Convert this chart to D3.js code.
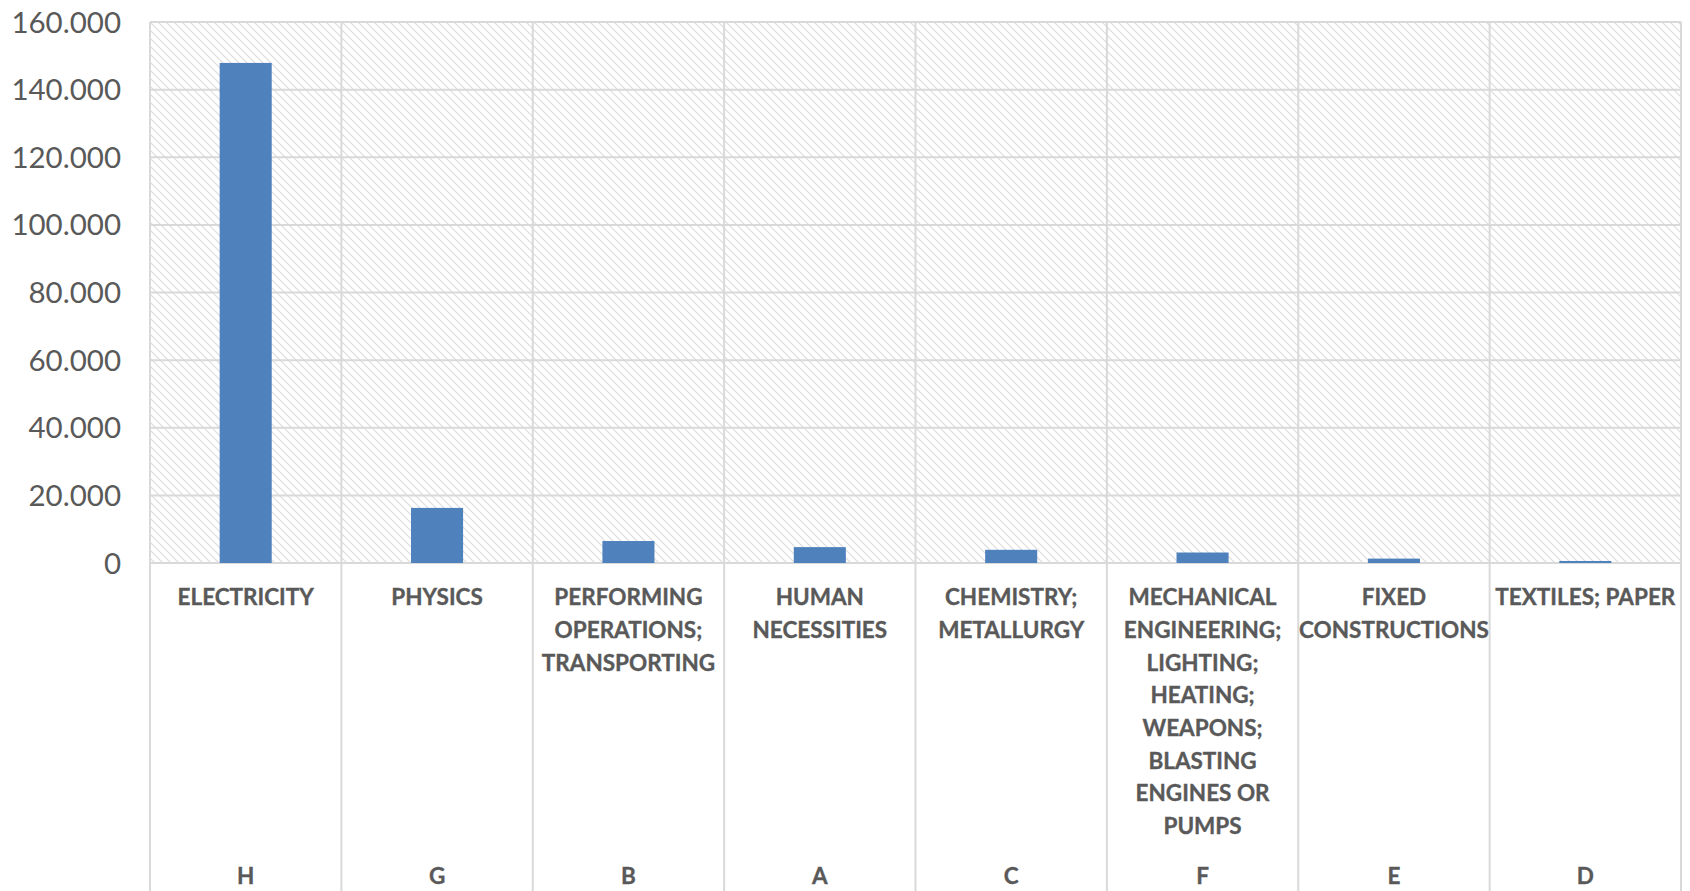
<!DOCTYPE html>
<html>
<head>
<meta charset="utf-8">
<script src="https://cdn.jsdelivr.net/npm/d3@7"></script>
<style>
  body { margin: 0; background: #fff; }
  svg { display: block; }
  .tick-label { font-family: Lato, "Open Sans", sans-serif; font-size: 29.5px; fill: #595959; }
  .cat-label { font-family: Lato, "Open Sans", sans-serif; font-weight: bold; font-size: 22.5px; fill: #595959; stroke: #595959; stroke-width: 0.35px; }
</style>
</head>
<body>
<div id="chart"></div>
<script>
// category codes and names (line breaks as in the original)
var codes = ["H", "G", "B", "A", "C", "F", "E", "D"]
var names = [
    "ELECTRICITY",
    "PHYSICS",
    "PERFORMING\nOPERATIONS;\nTRANSPORTING",
    "HUMAN\nNECESSITIES",
    "CHEMISTRY;\nMETALLURGY",
    "MECHANICAL\nENGINEERING;\nLIGHTING;\nHEATING;\nWEAPONS;\nBLASTING\nENGINES OR\nPUMPS",
    "FIXED\nCONSTRUCTIONS",
    "TEXTILES; PAPER"
]
var values = [147900, 16300, 6500, 4700, 3900, 3100, 1300, 600]
var yTicks = [0, 20000, 40000, 60000, 80000, 100000, 120000, 140000, 160000]

var width = 1690, height = 891
var margin = {left: 150, right: 9, top: 22}
var zeroY = 563

var locale = d3.formatLocale({decimal: ",", thousands: ".", grouping: [3], currency: ["", ""]})
var fmt = locale.format(",")

var svg = d3.select("#chart").append("svg")
    .attr("width", width)
    .attr("height", height)

// hatched background pattern
var pat = svg.append("defs").append("pattern")
    .attr("id", "hatch")
    .attr("patternUnits", "userSpaceOnUse")
    .attr("width", 8)
    .attr("height", 8)
pat.append("rect").attr("width", 8).attr("height", 8).attr("fill", "#fff")
pat.append("path")
    .attr("d", "M0,0L8,8M-4,4L4,12M4,-4L12,4")
    .attr("stroke", "#dcdcdc")
    .attr("stroke-width", 1.2)

var x = d3.scaleBand()
    .domain(codes)
    .range([margin.left, width - margin.right])
    .paddingInner(0)
    .paddingOuter(0)

var y = d3.scaleLinear()
    .domain([0, 160000])
    .range([zeroY, margin.top])

var barW = x.bandwidth() * 0.272

// plot background
svg.append("rect")
    .attr("x", x.range()[0])
    .attr("y", y(160000))
    .attr("width", x.range()[1] - x.range()[0])
    .attr("height", y(0) - y(160000))
    .attr("fill", "url(#hatch)")

// horizontal gridlines
svg.append("g").selectAll("line")
    .data(yTicks)
    .enter().append("line")
    .attr("x1", x.range()[0])
    .attr("x2", x.range()[1])
    .attr("y1", d => y(d))
    .attr("y2", d => y(d))
    .attr("stroke", "#d9d9d9")
    .attr("stroke-width", 2)

// vertical category separators (go down through the label area)
var seps = codes.map(c => x(c)).concat([x.range()[1]])
svg.append("g").selectAll("line")
    .data(seps)
    .enter().append("line")
    .attr("x1", d => d)
    .attr("x2", d => d)
    .attr("y1", y(160000))
    .attr("y2", height)
    .attr("stroke", "#d9d9d9")
    .attr("stroke-width", 2)

// bars
svg.append("g").selectAll("rect")
    .data(values)
    .enter().append("rect")
    .attr("x", (d, i) => x(codes[i]) + x.bandwidth() / 2 - barW / 2)
    .attr("y", d => y(d))
    .attr("width", barW)
    .attr("height", d => y(0) - y(d))
    .attr("fill", "#4f81bd")

// y tick labels
svg.append("g").selectAll("text")
    .data(yTicks)
    .enter().append("text")
    .attr("class", "tick-label")
    .attr("x", 121)
    .attr("y", d => y(d))
    .attr("dy", "0.36em")
    .attr("text-anchor", "end")
    .text(d => fmt(d))

// category names
var lineH = 32.7
svg.append("g").selectAll("text")
    .data(names)
    .enter().append("text")
    .attr("class", "cat-label")
    .attr("text-anchor", "middle")
    .attr("y", 597)
    .each(function (d, i) {
        var t = d3.select(this)
        d.split("\n").forEach((ln, j) => {
            t.append("tspan")
                .attr("x", x(codes[i]) + x.bandwidth() / 2)
                .attr("y", 597 + j * lineH)
                .attr("dy", "0.36em")
                .text(ln)
        })
    })

// category codes
svg.append("g").selectAll("text")
    .data(codes)
    .enter().append("text")
    .attr("class", "cat-label")
    .attr("text-anchor", "middle")
    .attr("x", d => x(d) + x.bandwidth() / 2)
    .attr("y", 876)
    .attr("dy", "0.36em")
    .text(d => d)
</script>
</body>
</html>
